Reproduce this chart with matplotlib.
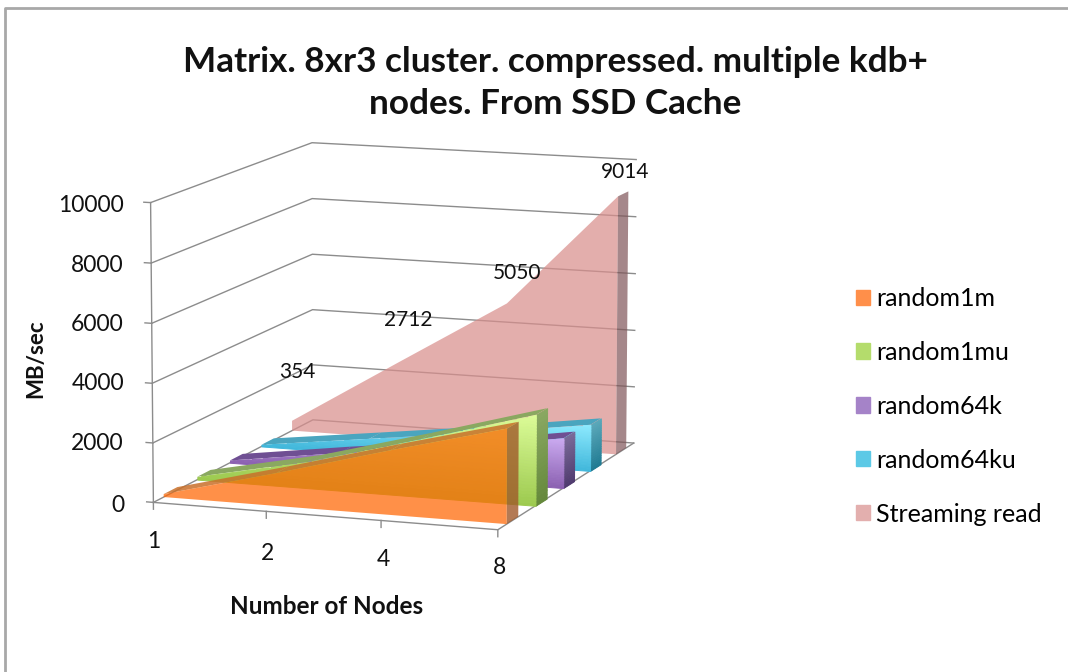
import numpy as np
import matplotlib
matplotlib.use("Agg")
from matplotlib import pyplot as plt
from matplotlib.lines import Line2D
from matplotlib.patches import Patch
from matplotlib.colors import to_rgb
from mpl_toolkits.mplot3d.art3d import Poly3DCollection

plt.rcParams['font.family'] = ['Lato', 'Open Sans', 'DejaVu Sans']

nodes = ['1', '2', '4', '8']
random1m = [100, 1100, 2150, 3150]
random1mu = [100, 900, 1950, 3050]
random64k = [80, 620, 1100, 1700]
random64ku = [60, 550, 1050, 1600]
streaming = [354, 2712, 5050, 9014]
series_names = ['random1m', 'random1mu', 'random64k', 'random64ku', 'Streaming read']
y_ticks = [0, 2000, 4000, 6000, 8000, 10000]

W, H = 1068, 672
GRID = '#8c8c8c'

fig = plt.figure(figsize=(W / 100, H / 100), dpi=100)
ax = fig.add_axes([0.0068, 0.0205, 0.72, 0.96], projection='3d', computed_zorder=False)
ax.set_axis_off()
ax.set_xlim(0, 3)
ax.set_ylim(0, 5)
ax.set_zlim(0, 10000)
ax.set_box_aspect((360, 440, 300), zoom=0.955)
ax.view_init(elev=10.3, azim=-70)
ax.set_proj_type('persp', focal_length=1.4)

x = np.arange(len(nodes))
x_fine = np.linspace(0, 3, 91)


def add_polys(verts, color, alpha, z, seam=False):
    rgba = to_rgb(color) + (alpha,)
    poly = Poly3DCollection(verts, facecolors=[rgba], edgecolors=[rgba] if seam else 'none', linewidths=0.7 if seam else 0)
    poly.set_zorder(z)
    ax.add_collection3d(poly, autolim=False)


def shade(c_top, c_bottom, t):
    a, b = np.array(to_rgb(c_top)), np.array(to_rgb(c_bottom))
    return tuple(b + (a - b) * t)


def gradient_face(vals, y0, top_color, bottom_color, z, n=30):
    tops = np.interp(x_fine, x, vals)
    edges = np.linspace(0, max(vals), n + 1)
    for k in range(n):
        lo, hi = edges[k], edges[k + 1]
        cap = np.minimum(tops, hi)
        keep = cap > lo
        if keep.sum() < 2:
            continue
        xs, cs = x_fine[keep], cap[keep]
        verts = [(xs[0], y0, lo), (xs[-1], y0, lo)] + [(a, y0, b) for a, b in zip(xs[::-1], cs[::-1])]
        add_polys([verts], shade(top_color, bottom_color, (k + .5) / n), 1.0, z, seam=True)


def gradient_side(top, y0, y1, top_color, bottom_color, z, n=20):
    edges = np.linspace(0, top, n + 1)
    for k in range(n):
        verts = [(3, y0, edges[k]), (3, y1, edges[k]), (3, y1, edges[k + 1]), (3, y0, edges[k + 1])]
        add_polys([verts], shade(top_color, bottom_color, (k + .5) / n), 1.0, z, seam=True)


def top_faces(vals, y0, y1):
    return [[(x[j], y0, vals[j]), (x[j + 1], y0, vals[j + 1]),
             (x[j + 1], y1, vals[j + 1]), (x[j], y1, vals[j])] for j in range(3)]


# walls and floor
for v in y_ticks:
    ax.plot([0, 0, 3], [0, 5, 5], [v, v, v], color=GRID, lw=1, zorder=1)
    ax.plot([0, -0.06], [0, 0], [v, v], color=GRID, lw=1, zorder=1)
ax.plot([0, 0], [0, 0], [0, 10000], color=GRID, lw=1, zorder=1)
ax.plot([0, 3, 3], [0, 0, 5], [0, 0, 0], color=GRID, lw=1, zorder=1)
for j in x:
    ax.plot([j, j], [0, 0], [0, -230], color=GRID, lw=1, zorder=1)

# streaming read, flat and see through
y0, y1 = 4.3, 4.7
add_polys([[(0, y0, 0), (3, y0, 0)] + [(a, y0, b) for a, b in zip(x[::-1], streaming[::-1])]], '#d98f8d', 0.72, 10)
add_polys([[(3, y0, 0), (3, y1, 0), (3, y1, streaming[3]), (3, y0, streaming[3])]], '#7f5558', 0.7, 11)

# random64ku
y0, y1 = 3.3, 3.7
add_polys(top_faces(random64ku, y0, y1), '#4aa5bf', 1, 20)
gradient_side(random64ku[3], y0, y1, '#5aa8ba', '#1f7a92', 21)
gradient_face(random64ku, y0, '#8ceaff', '#3fb6da', 22)

# random64k
y0, y1 = 2.3, 2.7
add_polys(top_faces(random64k, y0, y1), '#6f4f93', 1, 30)
gradient_side(random64k[3], y0, y1, '#7a6a98', '#4f3a6e', 31)
gradient_face(random64k, y0, '#cbaaf0', '#8a5fb0', 32)

# random1mu
y0, y1 = 1.3, 1.7
add_polys(top_faces(random1mu, y0, y1), '#8aa860', 1, 40)
gradient_side(random1mu[3], y0, y1, '#8aa862', '#64883a', 41)
gradient_face(random1mu, y0, '#dcfc98', '#9cc94e', 42)

# random1m on top, see through
y0, y1 = 0.3, 0.7
add_polys(top_faces(random1m, y0, y1), '#c9702a', 0.85, 50)
add_polys([[(3, y0, 0), (3, y1, 0), (3, y1, random1m[3]), (3, y0, random1m[3])]], '#a0592a', 0.8, 51)
add_polys([[(0, y0, 0), (3, y0, 0)] + [(a, y0, b) for a, b in zip(x[::-1], random1m[::-1])]], '#ff6602', 0.72, 52)

# tick labels and data labels, placed like the original
for v, py in zip(y_ticks, [505, 443, 383, 324, 265, 206]):
    fig.text(124 / W, 1 - py / H, str(v), ha='right', va='center', fontsize=16.5, color='#111111')
for n, (px, py) in zip(nodes, [(154, 541), (267, 553), (383, 559), (500, 567)]):
    fig.text(px / W, 1 - py / H, n, ha='center', va='center', fontsize=16.5, color='#111111')
for v, (px, py) in zip(streaming, [(297, 372), (408, 320), (517, 273), (625, 172)]):
    fig.text(px / W, 1 - py / H, str(v), ha='center', va='center', fontsize=15, color='#111111')

fig.text(555 / W, 1 - 83 / H, 'Matrix. 8xr3 cluster. compressed. multiple kdb+\nnodes. From SSD Cache',
         ha='center', va='center', fontsize=25.3, fontweight='bold', color='#111111', linespacing=1.38)
fig.text(36 / W, 1 - 359 / H, 'MB/sec', rotation=90, ha='center', va='center', fontsize=16, fontweight='bold', color='#111111')
fig.text(327 / W, 1 - 606 / H, 'Number of Nodes', ha='center', va='center', fontsize=17.5, fontweight='bold', color='#111111')

handles = [Patch(color=c) for c in ['#ff8f4a', '#b4dc6c', '#a583c8', '#5cc9e6', '#e3afae']]
fig.legend(handles, series_names, loc='upper left', bbox_to_anchor=(856 / W, 1 - 287 / H), frameon=False,
           fontsize=18, handlelength=0.56, handleheight=0.56, handletextpad=0.24, labelspacing=1.236,
           borderpad=0, borderaxespad=0)

fig.add_artist(Line2D([5 / W, 5 / W, 1], [0, 1 - 8 / H, 1 - 8 / H], color='#a8a8a8', lw=2))

fig.savefig('out.png', dpi=100)
